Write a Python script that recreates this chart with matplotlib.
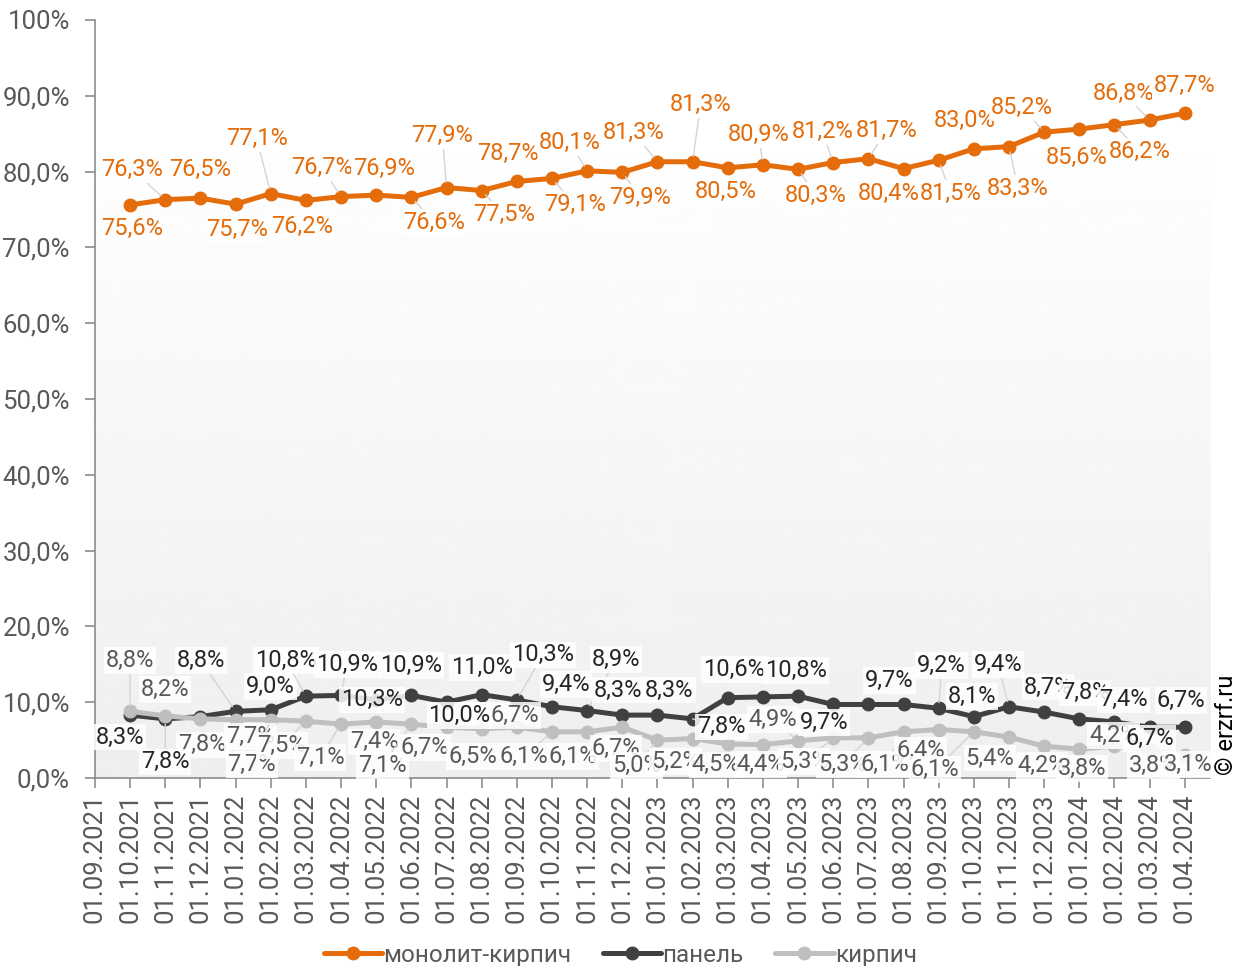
import numpy as np
import matplotlib
matplotlib.use("Agg")
import matplotlib.pyplot as plt

plt.rcParams['font.family'] = ['Roboto', 'DejaVu Sans']

# x axis categories (first month has no data)
dates = ["01.09.2021", "01.10.2021", "01.11.2021", "01.12.2021",
         "01.01.2022", "01.02.2022", "01.03.2022", "01.04.2022",
         "01.05.2022", "01.06.2022", "01.07.2022", "01.08.2022",
         "01.09.2022", "01.10.2022", "01.11.2022", "01.12.2022",
         "01.01.2023", "01.02.2023", "01.03.2023", "01.04.2023",
         "01.05.2023", "01.06.2023", "01.07.2023", "01.08.2023",
         "01.09.2023", "01.10.2023", "01.11.2023", "01.12.2023",
         "01.01.2024", "01.02.2024", "01.03.2024", "01.04.2024"]

# shares, % (from 01.10.2021)
monolit = [75.6, 76.3, 76.5, 75.7, 77.1, 76.2, 76.7, 76.9, 76.6, 77.9, 77.5,
           78.7, 79.1, 80.1, 79.9, 81.3, 81.3, 80.5, 80.9, 80.3, 81.2, 81.7,
           80.4, 81.5, 83.0, 83.3, 85.2, 85.6, 86.2, 86.8, 87.7]
panel = [8.3, 7.8, 8.1, 8.8, 9.0, 10.8, 10.9, 10.3, 10.9, 10.0, 11.0,
         10.3, 9.4, 8.9, 8.3, 8.3, 7.8, 10.6, 10.7, 10.8, 9.7, 9.7,
         9.7, 9.2, 8.1, 9.4, 8.7, 7.8, 7.4, 6.7, 6.7]
brick = [8.8, 8.2, 7.8, 7.7, 7.7, 7.5, 7.1, 7.4, 7.1, 6.7, 6.5,
         6.7, 6.1, 6.1, 6.7, 5.0, 5.2, 4.5, 4.4, 4.9, 5.3, 5.3,
         6.1, 6.4, 6.1, 5.4, 4.2, 3.8, 4.2, 3.8, 3.1]

series_names = ["монолит-кирпич", "панель", "кирпич"]
y_ticks = [0, 10, 20, 30, 40, 50, 60, 70, 80, 90, 100]
y_tick_labels = ["0,0%", "10,0%", "20,0%", "30,0%", "40,0%", "50,0%",
                 "60,0%", "70,0%", "80,0%", "90,0%", "100%"]

# label offsets in pixels (dx, dy), dy positive = down; None = no label
monolit_off = [(2, 24), (-33, -30), (0, -29), (2, 25), (-14, -55), (-4, 26),
               (-19, -29), (8, -27), (23, 25), (-4, -52), (22, 24), (-9, -28),
               (23, 26), (-17, -28), (18, 25), (-24, -29), (8, -57), (-2, 24),
               (-4, -30), (18, 26), (-11, -31), (18, -28), (-15, 25), (12, 33),
               (-9, -28), (9, 42), (-22, -25), (-3, 28), (25, 27), (-26, -27),
               (0, -28)]
panel_off = [(-10, 22), (0, 43), None, (-35, -51), (0, -23), (-20, -36),
             (6, -31), (-4, 0), (0, -30), (13, 13), (0, -27), (26, -45),
             (14, -22), (29, -51), (-4, -25), (12, -25), (29, 8), (6, -28),
             None, (-2, -26), (-9, 18), None, (-14, -24), (3, -43),
             (-2, -20), (-11, -42), (4, -25), (6, -26), (9, -22), (0, 11),
             (-4, -27)]
brick_off = [(0, -51), (0, -26), (2, 26), (15, 17), (-19, 45), (-24, 24),
             (-21, 33), (-2, 20), (-29, 41), (-22, 20), (-9, 28), (-2, -12),
             (-28, 25), (-14, 25), (-6, 21), (-21, 25), (-17, 23), (-12, 21),
             (-2, 20), (-25, -21), (-29, 24), (-26, 27), (-19, 33), (-18, 21),
             (-39, 38), (-19, 21), (-2, 19), (3, 19), (-1, -11), (4, 16),
             (3, 10)]

colors = ["#E46C0A", "#404040", "#BFBFBF"]
text_colors = ["#E46C0A", "#262626", "#595959"]
label_z = [6, 7, 5]

fig = plt.figure(figsize=(12.48, 9.66), dpi=100)
ax = fig.add_axes([0.0761, 0.1946, 0.8935, 0.7847])

x = np.arange(1, len(monolit) + 1)

# plot area background: white on top, fading to light gray at the bottom
grad = np.linspace(0.935, 1.0, 256).reshape(-1, 1)
ax.imshow(grad, cmap="gray", vmin=0, vmax=1, aspect="auto",
          extent=(0, 31.72, 0, 87), origin="lower", zorder=0)

for vals, offs, col, tcol, name, lz in zip([monolit, panel, brick],
                                           [monolit_off, panel_off, brick_off],
                                           colors, text_colors, series_names,
                                           label_z):
    ax.plot(x, vals, color=col, lw=3.6, marker="o", markersize=9,
            label=name, zorder=3, solid_capstyle="round")
    for xi, v, off in zip(x, vals, offs):
        if off is None:
            continue
        dx, dy = off
        dist = np.hypot(dx, dy)
        arrow = None
        if dist > 30:
            arrow = dict(arrowstyle="-", color="#d4d4d4", lw=1,
                         shrinkA=0, shrinkB=4)
        ax.annotate(f"{v:.1f}%".replace(".", ","), (xi, v),
                    xytext=(dx * 0.72, -dy * 0.72), textcoords="offset points",
                    ha="center", va="center", fontsize=17, color=tcol,
                    bbox=dict(boxstyle="square,pad=0.08", fc="white",
                              ec="none", alpha=0.85),
                    arrowprops=arrow, zorder=lz)

ax.set_ylim(0, 100)
ax.set_xlim(0, 31.72)
ax.set_yticks(y_ticks)
ax.set_yticklabels(y_tick_labels)
ax.set_xticks(np.arange(len(dates)))
ax.set_xticklabels(dates, rotation=90)

for side in ["top", "right"]:
    ax.spines[side].set_visible(False)
for side in ["left", "bottom"]:
    ax.spines[side].set_color("#8c8c8c")
    ax.spines[side].set_linewidth(1.2)
ax.tick_params(axis="both", colors="#8c8c8c", length=7, width=1.2,
               labelcolor="#595959", labelsize=18.5)
ax.tick_params(axis="y", pad=11)
ax.tick_params(axis="x", pad=4)

ax.legend(loc="lower center", bbox_to_anchor=(0.471, -0.278), ncol=3,
          frameon=False, fontsize=17.5, handlelength=2.4, columnspacing=1.3,
          handletextpad=0.05, labelcolor="#595959")

fig.text(0.983, 0.198, "© erzrf.ru", rotation=90, fontsize=17,
         ha="center", va="bottom", color="black")

fig.savefig("out.png", dpi=100)
